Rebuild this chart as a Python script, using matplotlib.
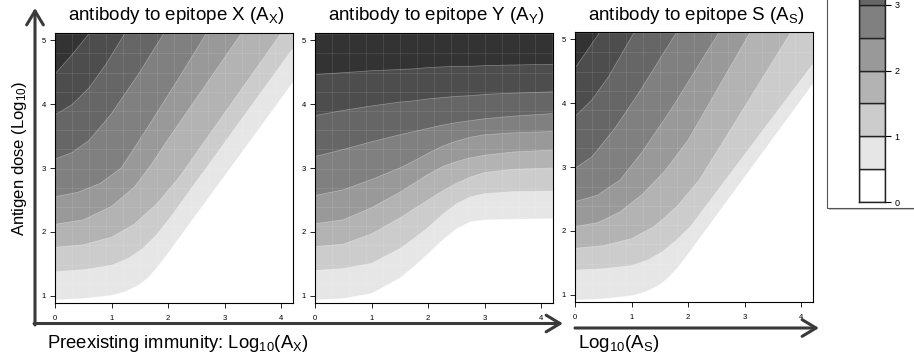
import matplotlib
matplotlib.use("Agg")
import matplotlib.pyplot as plt
from matplotlib.patches import Rectangle, FancyArrowPatch

plt.rcParams['font.family'] = ['Liberation Sans', 'DejaVu Sans']
plt.rcParams['mathtext.default'] = 'regular'

# ---------------- data ----------------
levels = [0.5, 1.0, 1.5, 2.0, 2.5, 3.0, 3.5, 4.0]
band_colors = ['#ffffff', '#e6e6e6', '#cccccc', '#b3b3b3', '#999999',
               '#808080', '#666666', '#4d4d4d', '#333333']
x_ticks = [0, 1, 2, 3, 4]
y_ticks = [1, 2, 3, 4, 5]
cb_ticks = [0, 1, 2, 3]
titles = ['antibody to epitope X (A$_X$)', 'antibody to epitope Y (A$_Y$)',
          'antibody to epitope S (A$_S$)']

# panel X : contour boundary polylines (x, y) for each level
X_cx = [[0, 0.5, 1.0, 1.25, 1.5, 1.65, 1.8, 2.0, 4.2],
        [0, 0.5, 1.0, 1.3, 1.55, 1.8, 2.05, 4.2],
        [0, 0.5, 1.0, 1.4, 1.8, 2.2, 4.0],
        [0, 0.5, 1.0, 1.4, 1.7, 2.0, 3.3],
        [0, 0.4, 0.8, 1.17, 1.6, 2.2, 2.68],
        [0, 0.3, 0.6, 1.0, 1.5, 1.93],
        [0, 0.3, 0.6, 0.9, 1.24],
        [0, 0.3, 0.61]]
X_cy = [[0.94, 0.96, 1.01, 1.07, 1.18, 1.29, 1.44, 1.67, 4.33],
        [1.38, 1.41, 1.48, 1.59, 1.74, 1.96, 2.24, 4.86],
        [1.76, 1.80, 1.92, 2.12, 2.44, 2.86, 5.11],
        [2.12, 2.19, 2.40, 2.70, 3.05, 3.45, 5.11],
        [2.55, 2.62, 2.76, 3.00, 3.58, 4.42, 5.11],
        [3.14, 3.24, 3.43, 3.85, 4.50, 5.11],
        [3.83, 3.99, 4.25, 4.62, 5.11],
        [4.47, 4.77, 5.11]]

# panel Y : common x positions, one y list per level
Y_x = [0, 0.5, 1.0, 1.5, 1.75, 2.0, 2.25, 2.5, 2.75, 3.0, 3.5, 4.2]
Y_cy = [[0.94, 0.96, 1.04, 1.28, 1.46, 1.66, 1.87, 2.05, 2.16, 2.19, 2.20, 2.21],
        [1.40, 1.43, 1.51, 1.74, 1.90, 2.07, 2.27, 2.44, 2.55, 2.60, 2.63, 2.64],
        [1.77, 1.81, 1.97, 2.22, 2.36, 2.50, 2.64, 2.76, 2.86, 2.93, 2.98, 3.00],
        [2.13, 2.19, 2.38, 2.62, 2.76, 2.90, 3.02, 3.10, 3.16, 3.20, 3.25, 3.28],
        [2.57, 2.66, 2.82, 3.00, 3.11, 3.23, 3.34, 3.42, 3.48, 3.52, 3.55, 3.57],
        [3.18, 3.29, 3.41, 3.52, 3.57, 3.62, 3.67, 3.71, 3.74, 3.77, 3.81, 3.85],
        [3.82, 3.90, 3.97, 4.03, 4.05, 4.08, 4.10, 4.12, 4.13, 4.15, 4.17, 4.19],
        [4.46, 4.49, 4.52, 4.54, 4.55, 4.57, 4.58, 4.59, 4.59, 4.60, 4.61, 4.62]]

# panel S
S_cx = [[0, 0.5, 1.0, 1.25, 1.5, 1.65, 1.81, 2.0, 4.2],
        [0, 0.5, 1.0, 1.3, 1.55, 1.8, 2.05, 4.2],
        [0, 0.5, 1.0, 1.4, 1.8, 2.2, 3.82],
        [0, 0.4, 0.8, 1.2, 1.6, 2.0, 3.1],
        [0, 0.4, 0.8, 1.2, 1.7, 2.55],
        [0, 0.3, 0.7, 1.1, 1.8],
        [0, 0.3, 0.6, 1.05],
        [0, 0.2, 0.44]]
S_cy = [[0.92, 0.94, 0.99, 1.05, 1.16, 1.27, 1.42, 1.64, 4.29],
        [1.39, 1.41, 1.46, 1.55, 1.68, 1.86, 2.08, 4.60],
        [1.73, 1.77, 1.88, 2.07, 2.38, 2.80, 5.11],
        [2.07, 2.13, 2.30, 2.58, 2.95, 3.42, 5.11],
        [2.46, 2.56, 2.80, 3.25, 3.90, 5.11],
        [2.98, 3.16, 3.60, 4.12, 5.11],
        [3.79, 4.05, 4.42, 5.11],
        [4.55, 4.80, 5.11]]

XMAX = 4.21
YMIN, YMAX = 0.89, 5.11

W, H = 914, 358
fig = plt.figure(figsize=(W / 100, H / 100), dpi=100)


def fx(px):
    return px / W


def fy(py):
    return 1 - py / H


def draw_panel(left_px, top_px, curves_x, curves_y, title):
    ax = fig.add_axes([fx(left_px), fy(top_px + 270), 238 / W, 270 / H])
    ax.set_facecolor(band_colors[0])
    top_ext = YMAX + 1.0
    for i, (cx, cy) in enumerate(zip(curves_x, curves_y)):
        if cx[-1] >= XMAX - 0.05:
            px = list(cx) + [XMAX + 0.1, XMAX + 0.1, -0.1, -0.1]
            py = list(cy) + [cy[-1], top_ext, top_ext, cy[0]]
        else:
            px = list(cx) + [cx[-1], -0.1, -0.1]
            py = list(cy) + [top_ext, top_ext, cy[0]]
        ax.fill(px, py, color=band_colors[i + 1], lw=0, zorder=1 + i * 0.01)
        ax.plot(cx, cy, color='white', lw=0.5, alpha=0.35, zorder=2)
    # faint mesh texture
    for k in range(1, 15):
        ax.axvline(0.3 * k, color='white', lw=0.5, alpha=0.13, zorder=3)
    for k in range(1, 15):
        ax.axhline(YMIN + 0.3 * k, color='white', lw=0.5, alpha=0.13, zorder=3)
    ax.set_xlim(0, XMAX)
    ax.set_ylim(YMIN, YMAX)
    ax.set_xticks(x_ticks)
    ax.set_yticks(y_ticks)
    ax.tick_params(labelsize=5.5, length=3.5, width=0.6, direction='out')
    ax.tick_params(axis='x', pad=5)
    ax.tick_params(axis='y', pad=3)
    for s in ax.spines.values():
        s.set_linewidth(0.8)
        s.set_color('black')
        s.set_zorder(5)
    fig.text(fx(left_px + 121), fy(16), title, ha='center', va='center',
             fontsize=13.5)
    return ax


draw_panel(55, 33, X_cx, X_cy, titles[0])
draw_panel(315, 33, [Y_x] * len(Y_cy), Y_cy, titles[1])
draw_panel(575, 32, S_cx, S_cy, titles[2])

# axis labels
fig.text(fx(20), fy(158), 'Antigen dose (Log$_{10}$)', rotation=90,
         ha='center', va='center', fontsize=12)
fig.text(fx(47), fy(344), 'Preexisting immunity: Log$_{10}$(A$_X$)',
         ha='left', va='center', fontsize=13.3)
fig.text(fx(578), fy(344), 'Log$_{10}$(A$_S$)', ha='left', va='center',
         fontsize=13.5)

# big arrows
arrow_kw = dict(transform=fig.transFigure, color='#3a3a3a', lw=2.2,
                arrowstyle='->,head_length=0.5,head_width=0.3',
                mutation_scale=20, shrinkA=0, shrinkB=0)
fig.patches.append(FancyArrowPatch((fx(35), fy(325)), (fx(35), fy(8)), **arrow_kw))
fig.patches.append(FancyArrowPatch((fx(34), fy(323.5)), (fx(563), fy(323.5)), **arrow_kw))
fig.patches.append(FancyArrowPatch((fx(575), fy(328)), (fx(819), fy(328)), **arrow_kw))

# legend box with colour bar
fig.patches.append(Rectangle((fx(829), fy(210)), 200 / W, 300 / H,
                             transform=fig.transFigure, facecolor='#c8c8c8',
                             edgecolor='none', zorder=-2))
fig.patches.append(Rectangle((fx(827), fy(208)), 200 / W, 300 / H,
                             transform=fig.transFigure, facecolor='white',
                             edgecolor='#555555', lw=0.8, zorder=-1))
cb_top_val = 4.5
unit = 65.7
cb = fig.add_axes([fx(859), fy(202), 26 / W, unit * cb_top_val / H])
cb.set_zorder(3)
bounds = [0] + levels + [cb_top_val]
for i in range(len(band_colors)):
    cb.bar(0.5, bounds[i + 1] - bounds[i], bottom=bounds[i], width=1,
           color=band_colors[i], edgecolor='#222222', lw=1)
cb.set_xlim(0, 1)
cb.set_ylim(0, cb_top_val)
cb.set_xticks([])
cb.yaxis.tick_right()
cb.set_yticks(cb_ticks)
cb.tick_params(axis='y', labelsize=6.5, length=4, width=0.8, pad=3)
for s in cb.spines.values():
    s.set_linewidth(1)
    s.set_color('#222222')

fig.savefig('out.png', dpi=100)
